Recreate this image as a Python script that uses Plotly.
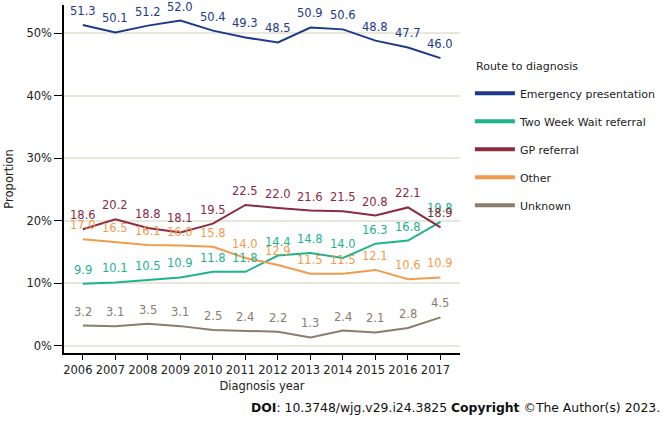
import plotly.graph_objects as go

years = [2006, 2007, 2008, 2009, 2010, 2011, 2012, 2013, 2014, 2015, 2016, 2017]
emergency = [51.3, 50.1, 51.2, 52.0, 50.4, 49.3, 48.5, 50.9, 50.6, 48.8, 47.7, 46.0]
two_week = [9.9, 10.1, 10.5, 10.9, 11.8, 11.8, 14.4, 14.8, 14.0, 16.3, 16.8, 19.8]
gp_referral = [18.6, 20.2, 18.8, 18.1, 19.5, 22.5, 22.0, 21.6, 21.5, 20.8, 22.1, 18.9]
other = [17.0, 16.5, 16.1, 16.0, 15.8, 14.0, 12.9, 11.5, 11.5, 12.1, 10.6, 10.9]
unknown = [3.2, 3.1, 3.5, 3.1, 2.5, 2.4, 2.2, 1.3, 2.4, 2.1, 2.8, 4.5]
y_ticks = [0, 10, 20, 30, 40, 50]

series = [
    ("Emergency presentation", emergency, "#1b3a8c"),
    ("Two Week Wait referral", two_week, "#1db38c"),
    ("GP referral", gp_referral, "#8c2a41"),
    ("Other", other, "#f29b4c"),
    ("Unknown", unknown, "#8a7d6b"),
]

FONT = "DejaVu Sans"

fig = go.Figure()

for i, (name, vals, color) in enumerate(series):
    fig.add_trace(
        go.Scatter(
            x=years,
            y=vals,
            mode="lines",
            line=dict(color=color, width=2),
            showlegend=False,
            hoverinfo="x+y",
        )
    )
    for yr, v in zip(years, vals):
        fig.add_annotation(
            x=yr, y=v, text=f"{v:.1f}",
            showarrow=False, yshift=14,
            font=dict(color=color, size=11.5, family=FONT),
        )
    # legend-only trace with a thicker swatch
    fig.add_trace(
        go.Scatter(
            x=[None],
            y=[None],
            mode="lines",
            name=name,
            legendgroup=f"g{i}",
            line=dict(color=color, width=4),
        )
    )

fig.add_annotation(
    text="Route to diagnosis",
    xref="paper", yref="paper",
    x=1.035, y=(353 - 66) / 348, xanchor="left", yanchor="middle",
    showarrow=False,
    font=dict(size=11, color="#222222", family=FONT),
)

fig.add_annotation(
    text="<b>DOI</b>: 10.3748/wjg.v29.i24.3825 <b>Copyright</b> ©The Author(s) 2023.",
    xref="paper", yref="paper",
    x=1.51, y=-0.158, xanchor="right", yanchor="middle",
    showarrow=False,
    font=dict(size=12.4, color="#111111", family=FONT),
)

fig.update_layout(
    plot_bgcolor="white",
    paper_bgcolor="white",
    font=dict(family=FONT, size=11.5, color="#222222"),
    width=667,
    height=422,
    margin=dict(t=5, r=207, b=69, l=64, autoexpand=False),
    xaxis=dict(
        title=dict(text="Diagnosis year", standoff=6, font=dict(size=11.5)),
        range=[2005.42, 2017.6],
        tickvals=years,
        tickangle=0,
        ticklabelshift=-5,
        showgrid=False,
        showline=True,
        linecolor="black",
        linewidth=1.5,
        ticks="outside",
        ticklen=5,
        tickcolor="black",
        zeroline=False,
        automargin=False,
    ),
    yaxis=dict(
        title=dict(text="Proportion", standoff=10, font=dict(size=11.5)),
        range=[-1.2, 54.5],
        tickvals=y_ticks,
        ticktext=[f"{t}%" for t in y_ticks],
        showgrid=True,
        gridcolor="#e8e8da",
        gridwidth=2,
        showline=True,
        linecolor="black",
        linewidth=1.5,
        ticks="outside",
        ticklen=8,
        tickcolor="black",
        zeroline=False,
        automargin=False,
    ),
    legend=dict(
        x=1.025,
        y=0.788,
        xanchor="left",
        yanchor="top",
        font=dict(size=11),
        tracegroupgap=9,
        itemwidth=40,
    ),
)

fig.write_html(
    "out.html",
    config={"displayModeBar": False},
    post_script="document.body.style.margin='0';",
)
